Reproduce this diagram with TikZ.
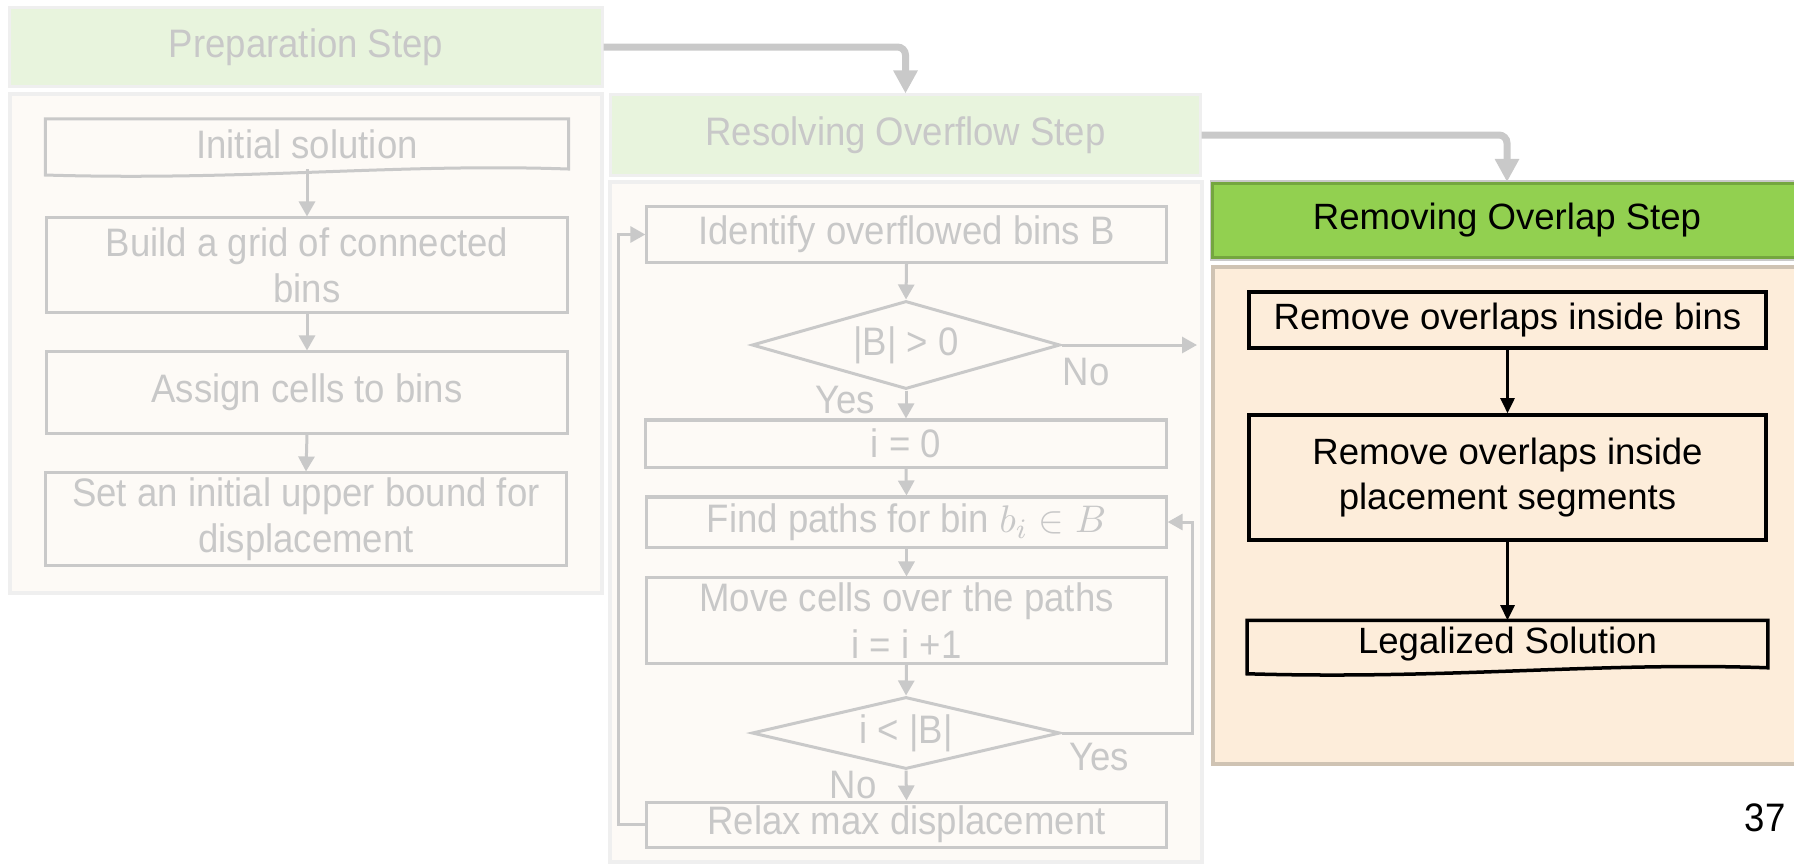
\documentclass[tikz,border=0pt]{standalone}
\usepackage{fontspec}
\setmainfont{Liberation Sans}
\newfontfamily\fadefont{Liberation Sans}[FakeStretch=0.92]
\usepackage{tikz}
\usetikzlibrary{arrows.meta}
\usetikzlibrary{shapes.geometric}
\usetikzlibrary{calc}
\definecolor{fadetext}{HTML}{C8C8C8}
\definecolor{fadeline}{HTML}{C9C9C9}
\definecolor{fadegreen}{HTML}{E8F4DD}
\definecolor{fadeedge}{HTML}{EFEFEF}
\definecolor{fadepanel}{HTML}{FDFAF6}
\definecolor{stepgreen}{HTML}{92D050}
\definecolor{stepedge}{HTML}{74A63F}
\definecolor{panelorange}{HTML}{FDEDDA}
\definecolor{paneledge}{HTML}{CFC3B3}
\tikzset{
	fadeflow/.style={draw=fadeline, line width=.03cm, -{Triangle[length=.15cm,width=.16cm]}},
	bigflow/.style={draw=fadeline, line width=.07cm, rounded corners=.08cm, -{Triangle[length=.23cm,width=.23cm]}},
	activeflow/.style={draw=black, line width=.025cm, -{Triangle[length=.15cm,width=.14cm]}},
	fadefont/.style={font=\fadefont\fontsize{11.3}{13.2}\selectfont}
}
\tikzstyle{fadebox}=[fadefont, draw=fadeline, line width=.03cm, text=fadetext, align=center, inner sep=0pt]
\tikzstyle{fadestep}=[fadefont, fill=fadegreen, draw=fadeedge, line width=.03cm, text=fadetext, inner sep=0pt]
\tikzstyle{fadediamond}=[fadefont, diamond, shape aspect=3.5, draw=fadeline, line width=.03cm, text=fadetext, inner sep=0pt]
\tikzstyle{fadelabel}=[fadefont, text=fadetext, inner sep=0pt]
\tikzstyle{activebox}=[draw=black, line width=.035cm, align=center, inner sep=0pt]
\tikzstyle{activestep}=[fill=stepgreen, draw=stepedge, line width=.03cm, inner sep=0pt]
\newcommand{\docshape}[2]{
	\draw[#1] (#2.north west) -- (#2.north east) -- (#2.south east)
		.. controls ($(#2.south)+(90,-6)$) and ($(#2.south)+(-60,12)$) .. ($(#2.south west)+(0,6)$) -- cycle;
}

\begin{document}
\begin{tikzpicture}[x=.01cm, y=-.01cm, every node/.style={font=\fontsize{10.4}{12.6}\selectfont}]
	\useasboundingbox (0,0) rectangle (1794,863);
	\clip (0,0) rectangle (1794,863);
%
	\filldraw[fill=fadepanel, draw=fadeedge, line width=.035cm] (10,94) rectangle (602,593);
	\filldraw[fill=fadepanel, draw=fadeedge, line width=.035cm] (610,182) rectangle (1202,862);
	\filldraw[fill=panelorange, draw=paneledge, line width=.035cm] (1213,267) rectangle (1801,764);
%
	\node[fadestep, minimum width=5.92cm, minimum height=.78cm] (prep) at (306,47) {Preparation Step};
	\node[fadebox, draw=none, minimum width=5.2cm, minimum height=.47cm] (init) at (307,144) {Initial solution};
	\docshape{fadeline, line width=.03cm}{init}
	\node[fadebox, minimum width=5.2cm, minimum height=.94cm] (build) at (307,265) {Build a grid of connected\\bins};
	\node[fadebox, minimum width=5.2cm, minimum height=.81cm] (assign) at (307,392.5) {Assign cells to bins};
	\node[fadebox, minimum width=5.2cm, minimum height=.92cm] (bound) at (306,519) {Set an initial upper bound for\\displacement};
	\draw[fadeflow] (init.south) -- (build.north);
	\draw[fadeflow] (build.south) -- (assign.north);
	\draw[fadeflow] (assign.south) -- (bound.north);
%
	\node[fadestep, minimum width=5.89cm, minimum height=.80cm] (resolve) at (905.5,135) {Resolving Overflow Step};
	\node[fadebox, minimum width=5.19cm, minimum height=.55cm] (ident) at (906.5,234.5) {Identify overflowed bins B};
	\node[fadediamond, minimum width=3.08cm, minimum height=.88cm] (d1) at (906,345) {|B| > 0};
	\node[fadebox, minimum width=5.2cm, minimum height=.47cm] (izero) at (906,443.5) {i = 0};
	\node[fadebox, minimum width=5.19cm, minimum height=.50cm] (find) at (906.5,522) {Find paths for bin $b_i \in B$};
	\node[fadebox, minimum width=5.19cm, minimum height=.85cm] (move) at (906.5,620.5) {Move cells over the paths\\i = i +1};
	\node[fadediamond, minimum width=3.08cm, minimum height=.72cm] (d2) at (906,733) {i < |B|};
	\node[fadebox, minimum width=5.19cm, minimum height=.45cm] (relax) at (906.5,824.5) {Relax max displacement};
	\coordinate (noend) at (1197,345);
	\node[fadelabel] (no1) at (1086,372) {No};
	\node[fadelabel] (yes1) at (845,400) {Yes};
	\node[fadelabel] (yes2) at (1099,757) {Yes};
	\node[fadelabel] (no2) at (853,785) {No};
	\draw[fadeflow] (ident.south) -- (d1.north);
	\draw[fadeflow] (d1.east) -- (noend);
	\draw[fadeflow] (d1.south) -- (izero.north);
	\draw[fadeflow] (izero.south) -- (find.north);
	\draw[fadeflow] (find.south) -- (move.north);
	\draw[fadeflow] (move.south) -- (d2.north);
	\draw[fadeflow] (d2.south) -- (relax.north);
	\draw[fadeflow] (d2.east) -| ($(find.east)+(25,0)$) -- (find.east);
	\draw[fadeflow] (relax.west) -- ++(-27,0) |- (ident.west);
%
	\draw[fadeline, line width=.02cm] (1211,181) rectangle (1803,260);
	\node[activestep, minimum width=5.88cm, minimum height=.74cm] (remove) at (1507,220.5) {Removing Overlap Step};
	\node[activebox, minimum width=5.17cm, minimum height=.56cm] (bins) at (1507.5,320) {Remove overlaps inside bins};
	\node[activebox, minimum width=5.17cm, minimum height=1.25cm] (segs) at (1507.5,477.5) {Remove overlaps inside\\placement segments};
	\node[activebox, draw=none, minimum width=5.17cm, minimum height=.44cm] (legal) at (1507.5,644) {Legalized Solution};
	\docshape{black, line width=.035cm}{legal}
	\draw[activeflow] (bins.south) -- (segs.north);
	\draw[activeflow] (segs.south) -- (legal.north);
%
	\draw[bigflow] (prep.east) -| (resolve.north);
	\draw[bigflow] (resolve.east) -| (remove.north);
%
	\node[fadefont] (page) at (1765,818) {37};
\end{tikzpicture}
\end{document}
